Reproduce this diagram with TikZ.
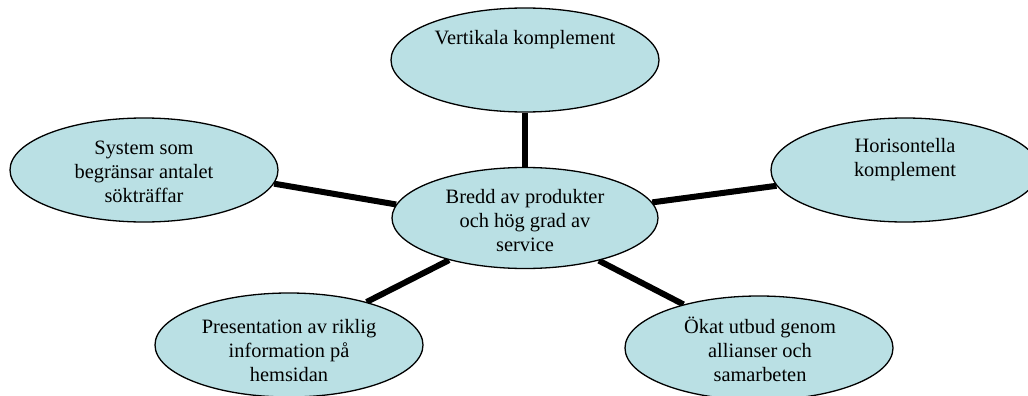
\documentclass[tikz,border=0pt]{standalone}
\usepackage{fontspec}
\setmainfont{Liberation Serif}
\usetikzlibrary{shapes.geometric,backgrounds}
\definecolor{bubble}{RGB}{186,224,228}
\begin{document}
\begin{tikzpicture}[x=1pt,y=-1pt,
  bubble/.style={ellipse,draw=black,line width=1.3pt,fill=bubble,
    minimum width=268pt,minimum height=104pt,inner sep=0pt},
  caption/.style={align=center,font=\fontsize{20.4}{24}\selectfont,inner sep=0pt},
  spoke/.style={line width=6pt,black}]
\useasboundingbox (0,0) rectangle (1028,396);

% ellipses
\node[bubble,minimum width=266pt,minimum height=101pt] (hub) at (525,218) {};
\node[bubble] (vert) at (525,60) {};
\node[bubble] (sys) at (144,170) {};
\node[bubble] (hor) at (905,170) {};
\node[bubble] (pres) at (289,345) {};
\node[bubble] (okat) at (759,348) {};

% texts
\node[caption] (thub) at (525,221) {Bredd av produkter\\och hög grad av\\service};
\node[caption] (tvert) at (525,40) {Vertikala komplement};
\node[caption] (tsys) at (144,172) {System som\\begränsar antalet\\sökträffar};
\node[caption] (thor) at (905,160) {Horisontella\\komplement};
\node[caption] (tpres) at (289,351) {Presentation av riklig\\information på\\hemsidan};
\node[caption] (tokat) at (760,349) {Ökat utbud genom\\allianser och\\samarbeten};

% spokes behind the ellipses
\begin{scope}[on background layer]
  \draw[spoke] (hub.north) -- (vert.south);
  \draw[spoke] (hub.174) -- (sys.-6);
  \draw[spoke] (hub.7) -- (hor.-173);
  \draw[spoke] (hub.209) -- (pres.29);
  \draw[spoke] (hub.-30) -- (okat.150);
\end{scope}
\end{tikzpicture}
\end{document}
